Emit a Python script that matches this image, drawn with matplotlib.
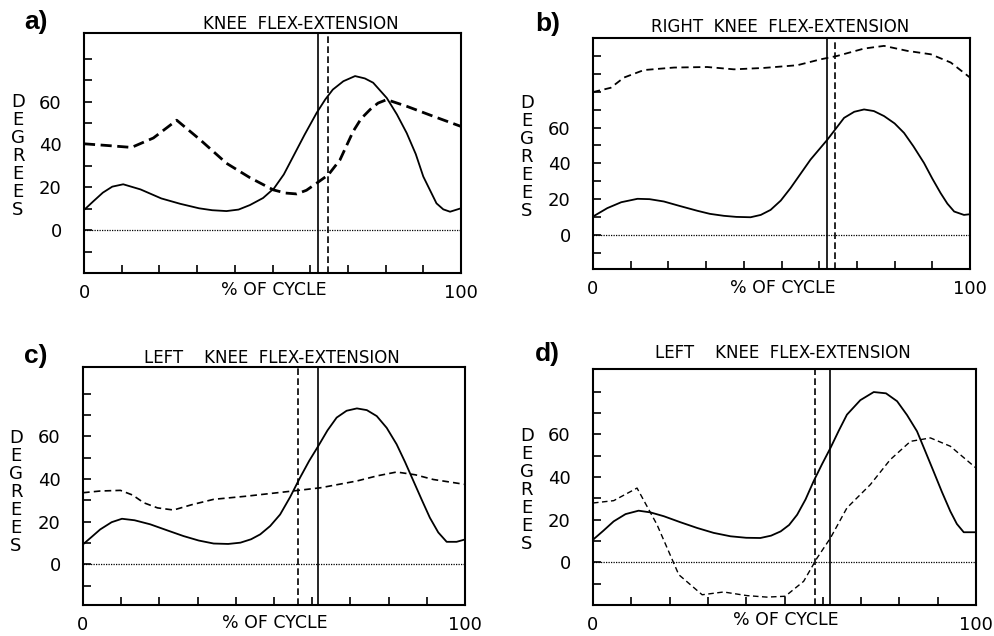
import numpy as np
import matplotlib.pyplot as plt

plt.rcParams['font.family'] = ['DejaVu Sans']

W, H = 994, 636

# ---- panel a ----
a_sx = [0, 2.5, 5, 7.5, 10.4, 15, 20.5, 25.5, 30.5, 34, 37.8, 41, 44, 47.5, 50.4, 53, 55.5, 58.5, 61.7, 64, 66, 68.8, 71.9, 74.5, 76.7, 80.3, 83, 85.6, 88, 90, 93.5, 95.3, 97.1, 100]
a_sy = [9.4, 13.5, 17.5, 20.3, 21.4, 19, 14.8, 12.3, 10.2, 9.3, 8.9, 9.6, 11.7, 15, 19.5, 26, 34.4, 44.5, 54.7, 61, 65.6, 69.5, 71.9, 70.8, 68.8, 61.7, 54, 45.3, 35.5, 25, 12.5, 9.7, 8.6, 10.2]
a_dx = [0, 6.9, 12.6, 18.4, 24.6, 30.8, 37.8, 44, 50.2, 53.5, 56.4, 59, 61.7, 64.8, 67.9, 71.4, 73.5, 75.9, 78, 80.3, 85.6, 92.7, 100]
a_dy = [40.3, 39.4, 38.6, 43, 51.3, 42.2, 31.2, 24.5, 18.8, 17.3, 16.9, 18.6, 21.9, 25.8, 32.8, 46.1, 52, 56.3, 59.3, 60.9, 57.8, 53.1, 48.4]

# ---- panel b ----
b_sx = [0, 3.8, 7.5, 11.8, 15, 18.8, 23, 27.7, 31, 34.7, 38, 41.8, 44.5, 47.1, 49.8, 52.4, 55, 57.7, 62.2, 66.6, 69.3, 71.9, 74.5, 77.2, 80, 82.5, 85, 87.8, 90, 92.2, 94, 95.8, 98.4, 100]
b_sy = [10.3, 15, 18.3, 20.2, 20, 18.7, 16.2, 13.5, 11.8, 10.7, 10.1, 9.9, 11.2, 14, 19.2, 26.2, 34, 42.1, 53.3, 65.4, 68.8, 70.1, 69.2, 66.4, 62.3, 57, 49.5, 40.2, 31.5, 23.4, 17.5, 13.1, 11.2, 11.6]
b_dx = [0, 4.7, 8.2, 13.5, 21.5, 30.3, 37.4, 45.4, 54.2, 60.4, 64.8, 71.9, 77.2, 83.4, 89.6, 94.9, 100]
b_dy = [79.8, 82.2, 87.9, 92.1, 93.5, 93.8, 92.5, 93.3, 94.8, 98.1, 100, 104.1, 105.6, 102.8, 100.9, 96.3, 87.9]

# ---- panel c ----
c_sx = [0, 2.2, 4.5, 7.5, 10.2, 13.5, 17.6, 22, 26.3, 30.3, 34.2, 38, 41.2, 44, 46.4, 49, 51.6, 54.2, 56.8, 59.2, 61.6, 64, 66.4, 69, 71.7, 74.3, 76.9, 79.5, 82.1, 84.3, 86.5, 88.7, 90.8, 93, 95.2, 97.8, 100]
c_sy = [9.4, 12.8, 16.4, 19.8, 21.4, 20.7, 18.8, 16, 13.3, 11.2, 9.8, 9.6, 10.2, 11.8, 14.1, 18, 23.4, 31.5, 40.6, 48.5, 55.5, 62.8, 68.8, 72, 73.1, 72.3, 69.5, 64, 56.3, 48, 39.1, 30.2, 21.9, 15, 10.6, 10.6, 11.7]
c_dx = [0, 4.5, 9.8, 13, 15.9, 19.5, 23.7, 28.5, 34.2, 42.9, 53.4, 62.1, 71.7, 77, 82.1, 87, 91.7, 100]
c_dy = [33.6, 34.4, 34.7, 32.5, 28.9, 26.5, 25.5, 28, 30.5, 32, 34.1, 35.9, 39.1, 41.5, 43.3, 42, 39.8, 37.5]

# ---- panel d ----
d_sx = [0, 2.7, 5.4, 8.5, 11.9, 15, 18.5, 22.8, 27.2, 31.5, 35.9, 40, 43.7, 46.5, 49, 51.2, 53.3, 55.5, 57.6, 59.8, 62, 64.2, 66.3, 69.8, 73.3, 76.5, 79.4, 82, 84.6, 86.7, 88.9, 91.1, 93.3, 95, 96.8, 100]
d_sy = [10.6, 14.8, 19.2, 22.6, 24.2, 23.4, 21.6, 18.8, 16.1, 13.8, 12.2, 11.5, 11.4, 12.5, 14.5, 17.5, 22.3, 29.5, 38, 46, 53.6, 61.8, 69.2, 76, 79.8, 79.2, 75.5, 69, 61.4, 52.3, 42.7, 33, 23.9, 18, 14.1, 14.1]
d_dx = [0, 5.4, 11.5, 16.7, 22.4, 28.5, 34.1, 40.2, 45.4, 50.2, 55, 58.5, 62, 66.3, 72.4, 77.6, 82.9, 88.1, 93.3, 100]
d_dy = [27.8, 28.9, 34.8, 17.7, -5.8, -15.2, -13.9, -15.6, -16.3, -15.9, -8.9, 2, 11.4, 25.5, 36.4, 48.1, 56.7, 58.3, 54.4, 44.2]

labels = ['a)', 'b)', 'c)', 'd)']
titles = ['KNEE  FLEX-EXTENSION', 'RIGHT  KNEE  FLEX-EXTENSION',
          'LEFT    KNEE  FLEX-EXTENSION', 'LEFT    KNEE  FLEX-EXTENSION']
solid_vl = [62.2, 62.0, 61.6, 62.0]
dash_vl = [64.8, 64.2, 56.4, 58.0]
ylims = [(-20, 92), (-19, 110), (-19, 92.5), (-20, 90.6)]
ytop = [80, 100, 80, 80]

# axes boxes in pixels: left, right, top, bottom
boxes = [(84, 461, 33, 273), (593, 970, 38, 269), (83, 465, 367, 605), (593, 976, 369, 605)]
lab_pos = [(24, 22), (535, 24), (24, 356), (535, 354)]
title_pos = [(301, 24), (780, 27), (272, 358), (783, 353)]
degrees_pos = [(18, 156), (527, 157), (16, 492), (527, 490)]
xlab_y = [290, 288, 623, 620]

fig = plt.figure(figsize=(W / 100, H / 100), dpi=100)


def fx(px):
    return px / W


def fy(py):
    return 1 - py / H


series = [(a_sx, a_sy, a_dx, a_dy), (b_sx, b_sy, b_dx, b_dy),
          (c_sx, c_sy, c_dx, c_dy), (d_sx, d_sy, d_dx, d_dy)]
dash_styles = [(2.0, (0, (4, 2))), (1.3, (0, (4, 2.5))), (1.2, (0, (4, 2.5))), (1.0, (0, (4, 2.5)))]

for i in range(4):
    l, r, t, b = boxes[i]
    ax = fig.add_axes([fx(l), fy(b), (r - l) / W, (b - t) / H])
    sx, sy, dx, dy = series[i]
    ax.plot(sx, sy, color='black', lw=1.3)
    ax.plot(dx, dy, color='black', lw=dash_styles[i][0], linestyle=dash_styles[i][1])
    ax.axhline(0, color='black', lw=0.9, linestyle=(0, (1, 1)))
    ax.axvline(solid_vl[i], color='black', lw=1.2)
    ax.axvline(dash_vl[i], color='black', lw=1.2, linestyle=(0, (4, 2)))
    ax.set_xlim(0, 100)
    ax.set_ylim(*ylims[i])

    ax.set_xticks(range(0, 101, 10))
    ax.set_xticklabels(['0'] + [''] * 9 + ['100'])
    yt = list(range(-10, ytop[i] + 1, 10))
    ax.set_yticks(yt)
    ax.set_yticklabels([str(v) if v in (0, 20, 40, 60) else '' for v in yt])
    ax.tick_params(axis='both', direction='in', length=6, width=1.2, labelsize=13, color='black')
    ax.tick_params(axis='y', pad=16)
    ax.tick_params(axis='x', pad=8)
    for sp in ax.spines.values():
        sp.set_linewidth(1.5)

    fig.text(fx((l + r) / 2 + 1), fy(xlab_y[i]), '% OF CYCLE', ha='center', va='center', fontsize=12.5)
    fig.text(fx(degrees_pos[i][0]), fy(degrees_pos[i][1]), '\n'.join('DEGREES'), ha='center', va='center',
             fontsize=13, linespacing=1.0)
    fig.text(fx(title_pos[i][0]), fy(title_pos[i][1]), titles[i], ha='center', va='center', fontsize=12)
    fig.text(fx(lab_pos[i][0]), fy(lab_pos[i][1]), labels[i], ha='left', va='center',
             fontsize=19, fontweight='bold', family=['Liberation Sans', 'DejaVu Sans'])

fig.savefig('out.png', dpi=100)
